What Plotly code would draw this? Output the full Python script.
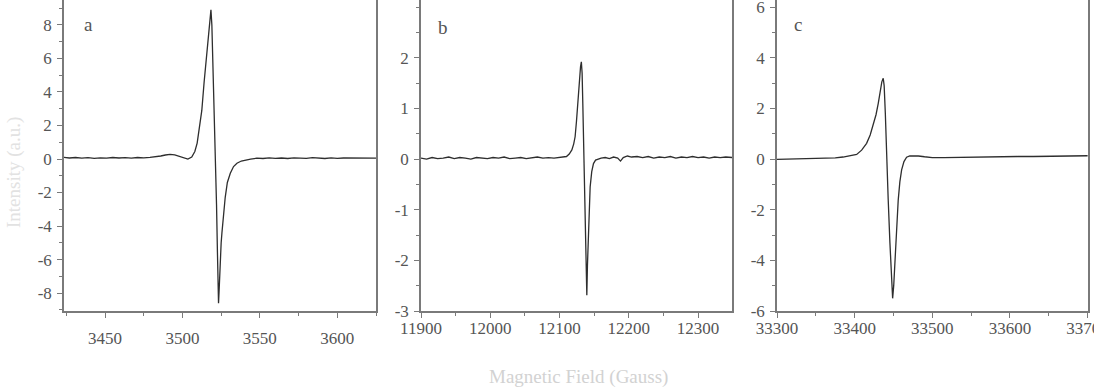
import plotly.graph_objects as go

# ---- EPR derivative spectra: three frequency bands ----
field_a = [3423, 3427, 3431, 3435, 3439, 3443, 3447, 3451, 3455, 3459, 3463, 3467, 3471,
           3475, 3479, 3483, 3486, 3489, 3492, 3495, 3498, 3501, 3503.5, 3506, 3508, 3509.5,
           3511, 3512.5, 3514, 3515, 3516, 3517, 3517.8, 3518.4, 3519.0, 3519.8, 3520.6,
           3521.3, 3522.0, 3522.6, 3523.0, 3523.3, 3523.7, 3524.3, 3525.0, 3525.5, 3526.5,
           3527.6, 3529, 3530.9, 3533, 3535.2, 3538, 3541, 3544, 3548, 3552, 3556, 3560,
           3564, 3568, 3572, 3576, 3580, 3584, 3588, 3592, 3596, 3600, 3604, 3608, 3612,
           3616, 3620, 3625]
signal_a = [0.10, 0.06, 0.09, 0.05, 0.08, 0.04, 0.07, 0.05, 0.09, 0.06, 0.08, 0.05, 0.09,
            0.07, 0.10, 0.13, 0.18, 0.24, 0.28, 0.25, 0.15, 0.05, 0.00, 0.12, 0.45, 0.95,
            1.8, 2.9, 4.6, 5.6, 6.7, 7.6, 8.4, 8.9, 8.0, 5.5, 2.7,
            0.0, -2.7, -5.6, -7.6, -8.6, -7.8, -6.2, -5.0, -4.4, -3.2,
            -2.3, -1.4, -0.85, -0.45, -0.25, -0.12, -0.04, 0.0, 0.05, 0.03, 0.07, 0.04,
            0.06, 0.03, 0.07, 0.05, 0.04, 0.08, 0.05, 0.03, 0.07, 0.04, 0.06, 0.05, 0.08,
            0.04, 0.06, 0.05]

field_b = [11900, 11908, 11916, 11924, 11932, 11940, 11948, 11956, 11964, 11972, 11980,
           11988, 11996, 12004, 12012, 12020, 12028, 12036, 12044, 12052, 12060, 12068,
           12076, 12084, 12092, 12100, 12105.6, 12110, 12114, 12117.8, 12120.5, 12122.5,
           12124.5, 12125.9, 12127.5, 12128.8, 12130.3, 12131.5, 12132.6, 12133.6, 12134.5,
           12135.7, 12137.0, 12138.3, 12139.4, 12140.3, 12141.8, 12143.0, 12144.2, 12146.5,
           12149, 12152, 12156, 12160, 12166, 12172, 12178, 12184, 12188, 12192, 12198,
           12204, 12212, 12220, 12228, 12236, 12244, 12252, 12260, 12268, 12276, 12284,
           12292, 12300, 12308, 12316, 12324, 12332, 12340, 12350]
signal_b = [0.02, 0.00, 0.03, 0.01, 0.02, 0.04, 0.01, 0.03, 0.02, 0.00, 0.03, 0.02,
            0.01, 0.03, 0.02, 0.04, 0.01, 0.02, 0.03, 0.01, 0.02, 0.04, 0.02, 0.03,
            0.02, 0.03, 0.03, 0.05, 0.10, 0.18, 0.30, 0.44,
            0.75, 1.03, 1.30, 1.56, 1.82, 1.92, 1.70, 1.10, 0.55,
            0.00, -0.90, -1.90, -2.69, -2.10, -1.34, -0.85, -0.55, -0.25,
            -0.09, -0.02, 0.00, 0.02, 0.03, 0.01, 0.04, 0.02, -0.04, 0.03, 0.06,
            0.04, 0.05, 0.03, 0.05, 0.02, 0.04, 0.03, 0.05, 0.02, 0.04, 0.03,
            0.05, 0.03, 0.04, 0.02, 0.04, 0.03, 0.04, 0.03]

field_c = [33300, 33320, 33340, 33360, 33375, 33385, 33395, 33402.6, 33409, 33415.4,
           33420, 33424, 33427.5, 33430.4, 33433, 33435, 33436.8, 33438, 33439.5, 33441.2,
           33443.2, 33445.4, 33447.2, 33448.9, 33450.3, 33451.9, 33454, 33456.1, 33458.2,
           33460.5, 33463.5, 33466.9, 33471, 33475.4, 33482, 33490, 33500, 33515, 33530,
           33550, 33570, 33590, 33610, 33630, 33650, 33670, 33690, 33700]
signal_c = [-0.01, 0.00, 0.01, 0.03, 0.05, 0.08, 0.12, 0.18, 0.35, 0.62,
            0.95, 1.34, 1.75, 2.20, 2.70, 3.05, 3.19, 2.90, 1.80, 0.00,
            -1.60, -3.30, -4.70, -5.50, -5.00, -4.00, -2.70, -1.62, -0.90,
            -0.43, -0.10, 0.07, 0.12, 0.13, 0.12, 0.09, 0.06, 0.06, 0.07,
            0.08, 0.09, 0.09, 0.10, 0.10, 0.11, 0.12, 0.13, 0.13]

panel_labels = ["a", "b", "c"]
x_ticks = [[3450, 3500, 3550, 3600],
           [11900, 12000, 12100, 12200, 12300],
           [33300, 33400, 33500, 33600, 33700]]
y_ticks = [[-8, -6, -4, -2, 0, 2, 4, 6, 8],
           [-3, -2, -1, 0, 1, 2],
           [-6, -4, -2, 0, 2, 4, 6]]

W, H = 1094, 389
SERIF = "Liberation Serif, DejaVu Serif, serif"
AX = "#7a7a7a"
TXT = "#555555"

panels = [
    dict(x=field_a, y=signal_a, xdom=(64, 376), xr=[3423.5, 3625], yr=[-9.07, 9.49],
         xminor=25, yminor=1, xstand=6, label_xy=(88, 25)),
    dict(x=field_b, y=signal_b, xdom=(421, 732), xr=[11900, 12349], yr=[-3.0, 3.14],
         xminor=50, yminor=0.5, xstand=-4, label_xy=(443, 27)),
    dict(x=field_c, y=signal_c, xdom=(777, 1088), xr=[33300, 33700.5], yr=[-6.0, 6.28],
         xminor=50, yminor=1, xstand=-4, label_xy=(798, 25)),
]

fig = go.Figure()
y_bottom = 1 - 311 / H

for i, p in enumerate(panels):
    n = "" if i == 0 else str(i + 1)
    fig.add_trace(go.Scatter(x=p["x"], y=p["y"], mode="lines",
                             line=dict(color="#2e2e2e", width=1.3),
                             xaxis="x" + n, yaxis="y" + n, showlegend=False,
                             hoverinfo="skip"))
    common = dict(showgrid=False, zeroline=False, showline=True, linecolor=AX,
                  linewidth=1.5, ticks="outside", ticklen=5, tickcolor=AX, tickwidth=1,
                  automargin=False, ticklabeloverflow="allow",
                  tickfont=dict(family=SERIF, size=17, color=TXT))
    fig.update_layout(**{
        "xaxis" + n: dict(common, domain=[p["xdom"][0] / W, p["xdom"][1] / W],
                          range=p["xr"], tickvals=x_ticks[i],
                          ticktext=[str(v) for v in x_ticks[i]], anchor="y" + n,
                          ticklabelstandoff=p["xstand"],
                          minor=dict(ticks="outside", ticklen=3, dtick=p["xminor"],
                                     tickcolor=AX, showgrid=False)),
        "yaxis" + n: dict(common, domain=[y_bottom, 1.0], range=p["yr"],
                          tickvals=y_ticks[i], ticktext=[str(v) for v in y_ticks[i]],
                          anchor="x" + n, mirror=True, ticklabelstandoff=2,
                          minor=dict(ticks="outside", ticklen=3, dtick=p["yminor"],
                                     tickcolor=AX, showgrid=False)),
    })
    lx, ly = p["label_xy"]
    fig.add_annotation(text=panel_labels[i], x=lx / W, y=1 - ly / H, xref="paper",
                       yref="paper", xanchor="center", yanchor="middle",
                       showarrow=False, font=dict(family=SERIF, size=19, color=TXT))

fig.add_annotation(text="Intensity (a.u.)", x=14 / W, y=1 - 173 / H, xref="paper",
                   yref="paper", xanchor="center", yanchor="middle", showarrow=False,
                   textangle=-90, font=dict(family=SERIF, size=19, color="#e2e2e2"))
fig.add_annotation(text="Magnetic Field (Gauss)", x=578 / W, y=1 - 377 / H, xref="paper",
                   yref="paper", xanchor="center", yanchor="middle", showarrow=False,
                   font=dict(family=SERIF, size=19, color="#d2d2d2"))

fig.update_layout(width=W, height=H, margin=dict(l=0, r=0, t=0, b=0),
                  paper_bgcolor="white", plot_bgcolor="white")

fig.write_html("out.html")
